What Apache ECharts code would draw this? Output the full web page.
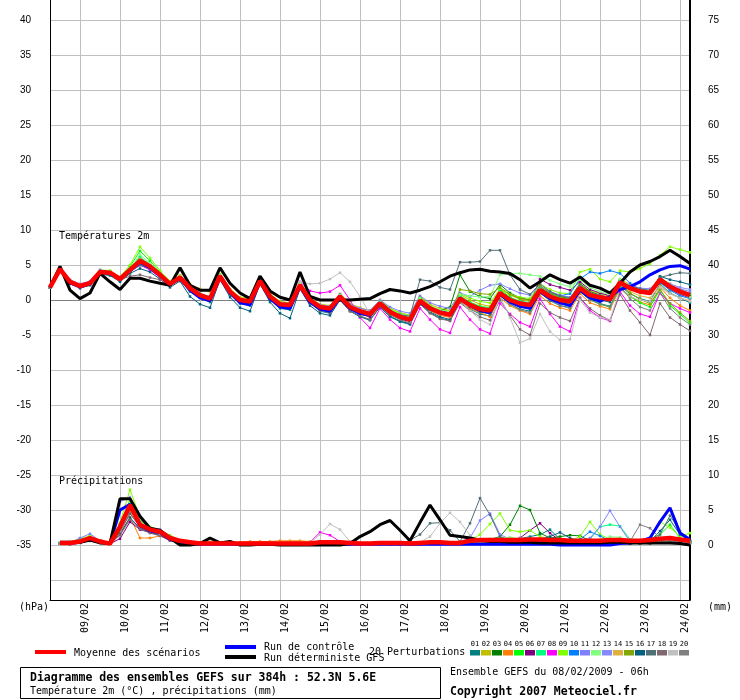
<!DOCTYPE html>
<html><head><meta charset="utf-8">
<script src="https://cdn.jsdelivr.net/npm/echarts@6/dist/echarts.min.js"></script>
<style>html,body{margin:0;padding:0;background:#fff}#c{width:740px;height:700px}</style>
</head><body><div id="c"></div>
<script>
// ---- axis / category definitions ----
const dayLabels = ['09/02','10/02','11/02','12/02','13/02','14/02','15/02','16/02','17/02','18/02','19/02','20/02','21/02','22/02','23/02','24/02'];
const startHour = 6, stepHour = 6, nSteps = 65; // 08/02 06h -> +384h
const leftTickLabels = [-35,-30,-25,-20,-15,-10,-5,0,5,10,15,20,25,30,35,40];
const rightTickLabels = [0,5,10,15,20,25,30,35,40,45,50,55,60,65,70,75];
const pertNames = ['01','02','03','04','05','06','07','08','09','10','11','12','13','14','15','16','17','18','19','20'];
const pertColors = ['#008080','#c0c000','#008000','#ff8000','#00ff00','#800080','#00ff80','#ff00ff','#80ff00','#0080ff','#8080ff','#80ff80','#8888ff','#e0b040','#80a800','#006080','#507078','#806870','#c0c0c0','#808080'];

// ---- temperature 2m (°C) ----
const tMean = [1.8,4.4,2.6,2.0,2.4,4.0,3.9,3.0,4.3,5.6,4.8,3.6,2.3,3.2,1.7,0.7,0.2,3.4,1.2,0.0,-0.2,2.7,0.5,-0.6,-0.7,2.1,0.0,-1.0,-1.2,0.5,-1.0,-1.6,-2.0,-0.5,-1.7,-2.4,-2.8,-0.1,-1.2,-1.8,-2.1,0.2,-0.7,-1.3,-1.5,1.0,0.0,-0.5,-0.7,1.4,0.5,0.0,-0.2,1.7,0.7,0.4,0.1,2.5,1.7,1.2,1.0,2.9,1.9,1.2,0.7];
const tDet = [1.8,4.8,1.4,0.2,1.0,3.8,2.6,1.5,3.1,3.1,2.7,2.4,2.1,4.6,2.1,1.4,1.4,4.6,2.4,1.0,0.2,3.4,1.3,0.4,0.0,4.0,0.5,0.0,0.0,0.0,0.0,0.1,0.2,0.9,1.5,1.3,1.0,1.4,1.9,2.6,3.4,3.9,4.3,4.4,4.1,4.0,3.8,2.9,1.7,2.6,3.6,2.9,2.4,3.3,2.1,1.7,1.0,2.4,4.0,5.0,5.5,6.2,7.1,6.2,5.2];
const tCtrl = [1.8,4.4,2.5,1.9,2.3,4.0,3.8,3.0,4.2,5.4,4.6,3.5,2.2,3.1,1.4,0.3,-0.1,3.2,1.0,-0.4,-0.7,2.6,0.2,-1.0,-1.2,1.9,-0.3,-1.3,-1.6,0.3,-1.2,-1.9,-2.2,-0.4,-1.6,-2.5,-2.9,-0.3,-1.3,-1.7,-2.0,0.3,-0.8,-1.5,-1.8,0.8,-0.3,-0.9,-1.2,1.2,0.2,-0.4,-0.8,1.4,0.3,-0.2,0.5,1.5,1.9,2.6,3.6,4.3,4.8,4.9,4.4];
const t01 = [1.8,4.3,2.4,1.8,2.2,3.8,3.6,2.8,4.0, 5.0,4.4,3.3,2.0,2.9,1.2,0.3,-0.3, 3.1,0.8,-0.5,-0.8,2.4,0.1,-1.2,-1.4, 1.8,-0.4,-1.6,-1.9,0.1,-1.5,-2.3,-2.8, -1.0,-2.4,-3.1,-3.5,-0.6,-1.8,-2.6,-2.9, -0.2,-1.3,-2.0,-2.3,0.6,-0.6,-1.3,-1.6, 1.0,-0.1,-0.8,-1.1,1.2,0.0,-0.5,-0.9, 2.0,0.9,0.2,-0.2,2.3,1.0,0.3,-0.4];
const t02 = [1.8,4.5,2.8,2.2,2.6,4.2,4.1,3.2,4.6, 6.0,5.1,3.9,2.6,3.5,2.2,1.6,1.2, 3.7,1.6,0.4,0.2,3.0,0.9,-0.2,-0.4, 2.4,0.3,-0.6,-0.8,0.9,-0.5,-1.1,-1.5, 0.0,-1.2,-1.8,-2.2,0.5,-0.6,-1.2,-1.5, 0.8,0.0,-0.6,-0.9,1.6,0.7,0.1,-0.2, 2.0,1.1,0.5,0.2,2.2,1.3,0.9,0.5, 3.0,2.2,1.6,1.3,3.2,2.3,1.5,0.9];
const t03 = [1.8,4.4,2.5,1.9,2.3,3.9,3.8,2.9,4.2, 5.5,4.7,3.5,2.2,3.1,1.5,0.5,0.0, 3.3,1.1,-0.1,-0.4,2.6,0.4,-0.8,-1.0, 1.9,-0.3,-1.3,-1.5,0.3,-1.2,-1.8,-2.2, -0.3,-1.5,-2.2,-2.6,0.4,-0.9,-1.5,-1.0, 3.6,1.2,0.5,0.2,2.2,1.0,0.3,0.0, 1.8,0.9,0.4,0.2,2.4,1.2,0.7,0.3, 2.8,1.9,1.3,1.1,3.3,2.0,1.2,0.6];
const t04 = [1.8,4.4,2.6,2.0,2.4,4.0,3.9,3.0,4.4, 5.9,5.0,3.7,2.4,3.3,1.8,0.8,0.4, 3.4,1.3,0.0,-0.2,2.7,0.5,-0.7,-0.8, 1.9,-0.2,-1.2,-1.5,0.2,-1.3,-2.0,-2.4, -0.8,-2.0,-2.7,-3.1,-0.5,-1.5,-2.2,-2.5, -0.2,-1.2,-1.8,-2.4,0.3,-0.8,-1.5,-2.0, 0.6,-0.5,-1.1,-1.5,0.9,-0.4,-0.9,-1.3, 1.6,0.6,-0.3,-0.7,1.8,0.3,-0.8,-1.5];
const t05 = [1.8,4.5,2.7,2.1,2.5,4.1,4.1,3.2,4.8, 7.0,5.6,4.0,2.6,3.4,1.8,0.7,0.2, 3.5,1.2,-0.1,-0.3,2.8,0.6,-0.5,-0.7, 2.2,0.1,-0.9,-1.1,0.7,-0.8,-1.5,-1.9, -0.2,-1.4,-2.0,-2.4,0.2,-1.0,-1.6,-1.9, 0.6,-0.3,-0.9,-1.1,1.5,0.4,-0.2,-0.4, 1.6,0.5,-0.2,-0.5,1.3,0.1,-0.6,-1.0, 1.8,0.5,-0.4,-1.0,1.5,-0.8,-2.0,-3.3];
const t06 = [1.8,4.4,2.5,1.9,2.3,4.0,3.9,3.0,4.3, 5.3,4.6,3.5,2.2,3.1,1.6,0.5,0.1, 3.3,1.0,-0.2,-0.4,2.6,0.3,-0.9,-1.0, 1.9,-0.3,-1.3,-1.6,0.2,-1.3,-2.0,-2.4, -0.6,-1.8,-2.5,-2.9,-0.2,-1.3,-1.9,-2.2, 0.3,-0.6,-1.2,-1.4,1.2,0.2,-0.3,-0.5, 3.0,2.2,1.8,1.4,2.6,1.5,1.0,0.6, 2.7,1.8,1.2,0.9,2.6,1.5,0.8,0.3];
const t07 = [1.8,4.3,2.6,2.0,2.4,4.1,3.9,3.1,4.5, 6.2,5.0,3.8,2.5,3.3,1.9,0.9,0.5, 3.6,1.4,0.2,0.0,2.9,0.7,-0.4,-0.5, 2.3,0.2,-0.8,-1.0,0.7,-0.8,-1.4,-1.8, -0.4,-1.6,-2.2,-2.6,0.1,-1.0,-1.6,-1.9, 0.5,-0.4,-1.0,-1.2,1.3,0.3,-0.2,-0.4, 1.7,0.8,0.3,0.0,2.0,1.0,0.6,0.3, 2.7,1.9,1.4,1.2,3.1,2.1,1.4,0.9];
const t08 = [1.8,4.3,2.3,1.7,2.2,3.8,3.7,2.8,4.0, 5.0,4.3,3.2,2.0,3.0,1.5,0.6,0.2, 3.3,1.2,0.0,-0.2,2.7,0.5,-0.5,-0.6, 2.6,1.3,1.0,1.2,2.1,0.0,-2.5,-4.0, -1.2,-2.8,-4.0,-4.5,-1.2,-2.8,-4.2,-4.7, -1.0,-2.8,-4.2,-4.8,-0.5,-2.0,-3.2,-3.8, 0.2,-2.0,-3.8,-4.5,0.3,-1.5,-2.5,-3.0, 1.2,-0.8,-2.0,-2.4,1.0,-0.5,-1.2,-1.8];
const t09 = [1.8,4.6,2.8,2.2,2.6,4.3,4.2,3.3,5.0, 7.6,6.0,4.2,2.7,3.5,1.9,0.8,0.4, 3.6,1.5,0.3,0.1,3.0,0.8,-0.3,-0.4, 2.3,0.3,-0.7,-0.9,0.6,-0.9,-1.5,-1.8, -0.1,-1.2,-1.9,-2.2,0.3,-0.8,-1.4,-1.6, 0.9,0.3,-0.2,-0.4,1.6,0.8,0.4,0.2, 2.3,1.5,1.0,0.9,4.0,4.4,3.0,2.6, 4.2,4.0,4.5,5.2,6.4,7.6,7.2,6.8];
const t10 = [1.8,4.4,2.7,2.1,2.5,4.0,3.9,3.0,4.3, 5.4,4.7,3.6,2.3,3.2,1.6,0.6,0.1, 3.3,1.1,-0.1,-0.3,2.6,0.4,-0.7,-0.9, 2.0,-0.1,-1.1,-1.3,0.4,-1.1,-1.7,-2.1, -0.6,-1.8,-2.5,-2.9,-0.2,-1.3,-1.9,-2.2, 0.1,-0.8,-1.4,-1.7,0.9,-0.2,-0.8,-1.0, 1.6,1.0,0.6,0.9,3.0,4.0,3.8,4.2, 3.8,2.4,1.5,1.0,2.5,1.4,0.6,0.2];
const t11 = [1.8,4.5,2.9,2.3,2.7,4.3,4.0,3.1,4.4, 5.8,5.0,3.8,2.4,3.2,1.6,0.6,0.2, 3.4,1.2,0.1,-0.1,2.8,0.6,-0.4,-0.5, 2.2,0.2,-0.7,-0.9,0.8,-0.6,-1.2,-1.5, 0.0,-1.0,-1.6,-1.9,0.6,-0.4,-0.9,-1.2, 1.0,0.5,1.4,2.1,2.3,1.6,1.0,0.7, 2.0,1.2,0.7,0.4,1.9,1.0,0.6,0.4, 2.7,2.1,1.7,1.6,3.0,2.2,1.6,1.2];
const t12 = [1.8,4.4,2.6,2.0,2.5,4.1,4.0,3.1,4.5, 6.5,5.2,3.8,2.4,3.3,1.7,0.6,0.2, 3.5,1.3,0.0,-0.2,2.8,0.5,-0.6,-0.7, 2.1,0.0,-1.0,-1.2,0.6,-0.9,-1.5,-1.9, -0.3,-1.4,-2.0,-2.3,0.2,-0.9,-1.4,-1.7, 0.8,0.6,0.4,0.5,3.6,3.8,3.8,3.6, 3.4,2.8,2.3,1.9,2.9,1.8,1.2,0.8, 2.9,2.0,1.4,1.1,3.0,1.8,1.0,0.4];
const t13 = [1.8,4.4,2.7,2.1,2.5,4.1,3.9,3.0,4.3, 5.6,4.8,3.6,2.3,3.2,1.6,0.6,0.2, 3.4,1.2,0.0,-0.2,2.7,0.5,-0.6,-0.7, 2.1,0.0,-1.0,-1.2,0.5,-1.0,-1.6,-2.0, -0.5,-1.7,-2.4,-2.8,-0.1,-1.2,-1.8,-2.1, 0.2,-0.7,-1.3,-1.5,1.0,0.0,-0.5,-0.7, 1.4,0.5,0.0,-0.2,1.7,0.7,0.4,0.1, 2.5,1.7,1.2,1.0,2.9,2.3,1.8,1.5];
const t14 = [1.8,4.4,2.6,2.0,2.4,4.0,3.9,3.1,4.4, 5.8,4.9,3.7,2.5,3.5,2.3,1.5,1.2, 3.5,1.4,0.3,0.1,2.8,0.6,-0.4,-0.5, 2.2,0.1,-0.9,-1.1,0.6,-0.9,-1.5,-1.9, -0.4,-1.6,-2.3,-2.7,-0.1,-1.2,-1.8,-2.1, 0.3,-0.6,-1.2,-1.4,1.1,0.1,-0.4,-0.6, 1.5,0.6,0.1,-0.1,1.8,0.8,0.4,0.1, 2.2,1.2,0.6,0.3,2.0,0.9,0.3,-0.1];
const t15 = [1.8,4.4,2.6,2.0,2.4,4.0,3.9,3.0,4.3, 5.7,4.8,3.6,2.3,3.2,1.7,0.7,0.2, 3.4,1.2,0.0,-0.2,2.7,0.5,-0.6,-0.7, 2.1,0.0,-1.0,-1.2,0.5,-1.0,-1.6,-2.0, -0.5,-1.7,-2.4,-2.8,-0.1,-1.2,-1.8,-2.1, 1.5,1.3,0.9,0.8,1.8,0.8,0.2,0.0, 2.0,1.0,0.4,0.1,2.2,1.1,0.5,0.1, 2.3,1.0,0.1,-0.5,1.5,-0.5,-1.8,-3.0];
const t16 = [1.8,4.3,2.3,1.7,2.1,3.7,3.5,2.6,3.8, 4.5,4.0,3.0,1.8,2.7,0.5,-0.6,-1.1, 2.9,0.4,-1.1,-1.6,2.3,-0.3,-1.9,-2.6, 1.6,-0.8,-1.9,-2.2,0.0,-1.6,-2.4,-2.9, -1.0,-2.3,-3.0,-3.4,-0.5,-1.7,-2.4,-2.8, -0.1,-1.0,-1.7,-2.0,0.8,-0.3,-0.9,-1.2, 1.2,0.2,-0.4,-0.7,1.5,0.4,0.0,-0.3, 2.4,1.6,1.1,0.9,3.4,2.9,2.6,2.2];
const t17 = [1.8,4.4,2.6,2.0,2.4,4.0,3.8,2.9,4.1, 5.0,4.5,3.4,2.1,3.0,1.4,0.4,-0.1, 3.2,1.0,-0.2,-0.4,2.5,0.3,-0.8,-0.9, 1.9,-0.2,-1.2,-1.4,0.3,-1.2,-1.8,-2.2, -0.6,-1.6,-2.1,-2.3,2.9,2.7,1.8,1.5, 5.4,5.4,5.5,7.1,7.1,3.6,1.5,0.8, 2.3,1.2,0.6,0.3,2.0,1.0,0.5,0.2, 2.6,2.0,1.6,1.4,3.2,3.6,3.9,3.8];
const t18 = [1.8,4.3,2.5,1.9,2.3,3.9,3.8,2.9,3.4, 3.6,3.2,2.9,2.1,3.0,1.5,0.5,0.0, 3.2,1.0,-0.3,-0.5,2.5,0.2,-1.0,-1.2, 1.8,-0.4,-1.5,-1.8,0.0,-1.6,-2.3,-2.8, -0.9,-2.1,-2.8,-3.3,-0.6,-1.9,-2.7,-3.0, -0.4,-1.5,-2.4,-2.9,0.0,-2.2,-4.2,-5.0, -0.5,-1.8,-2.5,-3.0,0.3,-1.2,-2.2,-2.9, 0.8,-1.5,-3.2,-5.0,-0.5,-2.5,-3.5,-4.4];
const t19 = [1.8,4.4,2.6,2.0,2.4,4.0,3.9,3.0,4.3, 5.5,4.7,3.5,2.2,3.1,1.6,0.6,0.2, 3.3,1.1,-0.1,-0.3,2.6,0.4,-0.7,-0.8, 2.6,2.3,2.4,3.0,3.9,2.6,0.5,-2.0, -0.5,-1.8,-2.6,-3.0,-0.3,-1.5,-2.0,-2.3, 0.0,-1.5,-2.8,-3.5,0.5,-2.5,-6.1,-5.5, -2.0,-4.5,-5.7,-5.6,0.0,-1.8,-2.5,-2.8, 1.5,0.5,0.0,-0.2,1.8,0.9,0.3,-0.2];
const t20 = [1.8,4.4,2.6,2.0,2.4,4.0,3.9,3.0,4.3, 5.6,4.8,3.6,2.3,3.2,1.7,0.7,0.2, 3.4,1.2,0.0,-0.2,2.7,0.5,-0.6,-0.7, 2.1,0.0,-1.0,-1.2,0.5,-1.0,-1.6,-2.0, -0.5,-1.7,-2.4,-2.8,-0.1,-1.2,-1.8,-2.1, 0.2,-0.9,-1.6,-1.9,0.8,-0.6,-1.4,-1.8, 1.2,0.0,-0.8,-1.2,1.3,0.0,-0.6,-1.0, 2.0,0.2,-1.0,-1.5,1.0,-1.2,-2.5,-3.5];

// ---- precipitation (mm / 6h) ----
const pMean = [null, 0.3,0.3,0.5,1.0,0.5,0.2,2.6,5.7,2.9,2.2,1.9,1.0,0.6,0.4,0.2,0.2, 0.2,0.2,0.2,0.2,0.2,0.2,0.2,0.2,0.2,0.2,0.4,0.4,0.4,0.3, 0.2,0.2,0.3,0.3,0.3,0.2,0.3,0.4,0.4,0.3,0.3,0.6,0.7,0.7, 0.7,0.7,0.7,0.8,0.8,0.7,0.7,0.6,0.6,0.6,0.6,0.7,0.7,0.6,0.6,0.7,0.9,1.0,0.8,0.6];
const pDet = [null, 0.4,0.4,0.4,0.7,0.3,0.2,6.6,6.6,4.1,2.4,2.1,1.0,0.0,0.0,0.2,1.0, 0.3,0.5,0.0,0.0,0.1,0.1,0.0,0.0,0.0,0.0,0.0,0.0,0.0,0.2, 1.2,1.9,2.9,3.5,2.1,0.6,3.2,5.7,3.6,1.4,1.2,1.0,0.7,0.5, 0.5,0.4,0.4,0.4,0.3,0.3,0.3,0.3,0.3,0.3,0.3,0.4,0.4,0.3,0.3,0.3,0.3,0.3,0.2,0.0];
const pCtrl = [null, 0.2,0.2,0.4,0.8,0.4,0.2,5.0,5.8,2.8,2.0,1.8,0.8,0.4,0.2,0.1,0.1, 0.1,0.1,0.1,0.1,0.1,0.1,0.1,0.1,0.1,0.1,0.1,0.1,0.1,0.1, 0.1,0.1,0.1,0.1,0.1,0.1,0.1,0.1,0.1,0.1,0.1,0.1,0.1,0.1, 0.1,0.1,0.1,0.1,0.1,0.1,0.0,0.0,0.0,0.0,0.0,0.0,0.2,0.3,0.5,1.0,3.3,5.3,1.7,0.8];
const p01 = [null, 0.2,0.3,0.6,1.0,0.4,0.2,3.0,5.5,3.0,2.0,1.6,0.8,0.4,0.2,0.1,0.1, 0.1,0.2,0.1,0.1,0.1,0.2,0.1,0.1,0.1,0.1,0.2,0.2,0.1,0.1, 0.1,0.1,0.2,0.2,0.1,0.1,0.3,0.5,0.4,0.3,0.2,0.4,0.5,0.6, 0.6,0.8,0.9,1.2,1.5,2.2,0.8,0.5,0.4,0.3,0.3,0.3,0.4,0.3,0.2,0.2,0.5,0.8,0.6,0.3];
const p02 = [null, 0.3,0.3,0.7,1.1,0.5,0.2,2.5,6.0,3.2,2.3,1.8,1.0,0.5,0.3,0.2,0.1, 0.1,0.1,0.2,0.1,0.1,0.1,0.2,0.1,0.1,0.1,0.1,0.2,0.2,0.1, 0.1,0.1,0.1,0.2,0.2,0.1,0.2,0.3,0.3,0.2,0.2,0.3,0.4,0.4, 0.5,0.5,0.6,0.6,0.7,0.6,0.5,0.5,0.4,0.5,0.6,0.5,0.4,0.4,0.4,0.5,0.6,0.7,0.5,0.4];
const p03 = [null, 0.2,0.3,0.8,1.2,0.6,0.2,2.2,5.2,3.0,2.2,1.7,0.9,0.4,0.2,0.1,0.1, 0.2,0.2,0.1,0.1,0.1,0.1,0.1,0.1,0.1,0.2,0.2,0.2,0.1,0.1, 0.1,0.1,0.1,0.1,0.1,0.1,0.2,0.3,0.3,0.3,0.5,0.6,0.7,0.8, 1.2,2.9,5.6,5.0,1.7,1.0,1.2,1.4,1.3,0.6,0.4,0.3,0.3,0.2,0.2,0.3,0.4,0.6,0.5,0.3];
const p04 = [null, 0.2,0.2,0.5,0.9,0.4,0.2,1.5,4.0,1.0,1.0,1.3,0.8,0.4,0.3,0.3,0.3, 0.3,0.4,0.4,0.5,0.5,0.5,0.6,0.6,0.6,0.5,0.5,0.5,0.4,0.3, 0.2,0.1,0.1,0.1,0.1,0.1,0.2,0.2,0.3,0.3,0.4,0.5,0.5,0.5, 0.5,0.6,0.6,0.5,0.5,0.4,0.4,0.4,0.3,0.3,0.3,0.4,0.4,0.3,0.3,0.4,0.5,0.6,0.5,0.3];
const p05 = [null, 0.3,0.3,0.6,1.2,0.6,0.2,2.8,6.5,3.5,2.5,2.0,1.2,0.6,0.3,0.2,0.1, 0.1,0.1,0.1,0.1,0.2,0.1,0.1,0.1,0.1,0.1,0.2,0.2,0.2,0.1, 0.1,0.1,0.1,0.1,0.2,0.2,0.2,0.2,0.3,0.3,0.3,0.4,0.5,0.6, 0.7,0.6,0.6,0.7,0.6,0.6,0.5,0.5,0.6,0.6,0.5,0.5,0.4,0.5,0.6,0.8,1.5,2.9,1.0,0.5];
const p06 = [null, 0.2,0.1,0.4,0.6,0.3,0.2,0.9,3.3,2.2,1.8,1.4,0.7,0.3,0.2,0.1,0.1, 0.1,0.1,0.1,0.1,0.1,0.2,0.2,0.2,0.1,0.1,0.2,0.5,0.3,0.1, 0.1,0.1,0.1,0.1,0.2,0.3,0.4,0.3,0.3,0.2,0.3,0.4,0.5,0.6, 0.6,0.7,1.0,2.1,3.1,1.7,0.6,0.5,0.4,0.4,0.4,0.4,0.3,0.3,0.3,0.4,0.6,0.6,0.5,0.4];
const p07 = [null, 0.3,0.2,0.6,1.0,0.5,0.2,2.0,4.8,3.3,2.0,1.7,0.9,0.4,0.2,0.1,0.1, 0.1,0.1,0.1,0.1,0.1,0.1,0.1,0.1,0.2,0.2,0.1,0.1,0.1,0.1, 0.1,0.1,0.1,0.2,0.2,0.2,0.3,0.3,0.3,0.4,0.4,0.5,0.5,0.6, 0.6,0.7,0.7,0.8,0.9,0.8,0.6,0.5,0.5,0.8,2.6,2.9,2.7,0.8,0.5,0.5,0.6,0.8,0.7,0.5];
const p08 = [null, 0.2,0.2,0.4,0.8,0.4,0.2,1.8,4.5,2.6,2.1,1.6,0.8,0.4,0.2,0.1,0.1, 0.1,0.1,0.1,0.1,0.1,0.1,0.2,0.2,0.3,0.4,1.8,1.4,0.5,0.2, 0.1,0.1,0.1,0.1,0.1,0.2,0.2,0.3,0.3,0.3,0.3,0.4,0.4,0.4, 0.5,0.5,0.6,0.5,0.5,0.4,0.4,0.3,0.3,0.3,0.3,0.4,0.4,0.3,0.3,0.3,0.4,0.5,0.4,0.3];
const p09 = [null, 0.3,0.4,0.9,1.3,0.6,0.3,3.2,7.9,4.0,2.6,2.1,1.4,0.7,0.3,0.2,0.1, 0.1,0.1,0.1,0.1,0.1,0.2,0.2,0.1,0.1,0.1,0.1,0.2,0.2,0.1, 0.1,0.1,0.1,0.1,0.1,0.1,0.2,0.3,0.3,0.3,0.4,0.6,1.5,3.0, 4.5,2.1,1.9,2.1,1.2,0.8,0.6,0.6,1.2,3.3,1.5,0.8,0.7,0.6,0.6,0.8,3.3,2.5,1.2,1.7];
const p10 = [null, 0.2,0.2,0.5,0.9,0.4,0.2,2.4,5.0,2.9,2.1,1.7,0.8,0.4,0.2,0.1,0.1, 0.1,0.1,0.1,0.1,0.1,0.1,0.1,0.1,0.1,0.1,0.1,0.1,0.1,0.1, 0.1,0.1,0.1,0.1,0.1,0.2,0.2,0.2,0.2,0.3,0.3,0.3,0.4,0.4, 0.5,0.5,0.5,0.5,0.6,0.6,0.5,0.5,0.8,1.9,1.3,0.6,0.4,0.3,0.3,0.4,0.5,0.7,0.6,0.4];
const p11 = [null, 0.3,0.3,1.0,1.6,0.6,0.2,6.2,6.8,3.8,2.4,2.2,1.2,0.5,0.2,0.1,0.1, 0.1,0.1,0.1,0.1,0.1,0.1,0.1,0.1,0.1,0.1,0.2,0.2,0.1,0.1, 0.1,0.1,0.1,0.1,0.2,0.2,0.2,0.3,0.3,0.3,0.4,1.0,3.5,4.5, 1.5,0.8,0.6,0.6,0.6,0.5,0.5,0.5,0.6,1.0,2.6,4.9,2.6,0.5,0.4,0.4,0.5,0.7,0.6,0.4];
const p12 = [null, 0.3,0.3,0.6,1.1,0.5,0.2,2.6,6.2,3.6,2.5,2.0,1.2,0.6,0.3,0.2,0.1, 0.1,0.1,0.1,0.1,0.1,0.1,0.1,0.1,0.1,0.1,0.1,0.1,0.2,0.1, 0.1,0.1,0.1,0.1,0.1,0.2,0.2,0.2,0.3,0.3,0.4,0.5,0.7,0.9, 1.0,1.1,0.9,0.8,0.7,0.6,0.6,0.6,0.5,0.6,0.8,1.2,1.1,0.6,0.5,0.5,0.6,0.8,0.7,0.5];
const p13 = [null, 0.2,0.3,0.5,0.9,0.5,0.2,2.3,5.4,3.1,2.2,1.8,0.9,0.4,0.2,0.1,0.1, 0.1,0.1,0.1,0.1,0.1,0.1,0.1,0.1,0.1,0.1,0.1,0.1,0.1,0.1, 0.1,0.1,0.1,0.1,0.1,0.1,0.2,0.2,0.2,0.3,0.3,0.4,0.4,0.5, 0.5,0.5,0.6,0.6,0.6,0.5,0.5,0.5,0.4,0.4,0.4,0.5,0.5,0.4,0.4,0.5,0.8,1.0,0.8,0.5];
const p14 = [null, 0.2,0.2,0.5,0.8,0.4,0.2,1.8,4.6,2.7,2.0,1.6,0.8,0.4,0.3,0.4,0.5, 0.4,0.4,0.3,0.3,0.3,0.3,0.4,0.5,0.5,0.5,0.4,0.4,0.3,0.2, 0.1,0.1,0.1,0.1,0.1,0.1,0.2,0.2,0.2,0.3,0.3,0.3,0.4,0.4, 0.4,0.5,0.5,0.5,0.5,0.4,0.4,0.4,0.4,0.4,0.4,0.4,0.4,0.3,0.3,0.3,0.4,0.5,0.5,0.3];
const p15 = [null, 0.2,0.2,0.4,0.8,0.4,0.2,2.0,4.9,2.8,2.0,1.7,0.9,0.4,0.2,0.1,0.1, 0.1,0.1,0.1,0.1,0.1,0.1,0.1,0.1,0.1,0.1,0.1,0.1,0.1,0.1, 0.1,0.1,0.1,0.1,0.1,0.1,0.2,0.2,0.2,0.3,0.3,0.4,0.4,0.4, 0.5,0.5,0.5,0.5,0.5,0.4,0.4,0.4,0.4,0.3,0.3,0.3,0.4,0.3,0.3,0.4,0.6,0.8,0.7,0.4];
const p16 = [null, 0.2,0.2,0.3,0.6,0.4,0.2,1.6,3.9,2.4,1.8,1.5,0.7,0.3,0.2,0.1,0.1, 0.1,0.1,0.1,0.1,0.1,0.1,0.1,0.1,0.1,0.1,0.1,0.1,0.1,0.1, 0.1,0.1,0.1,0.1,0.1,0.1,0.2,0.2,0.2,0.2,0.3,0.3,0.3,0.4, 0.4,0.5,0.5,0.6,0.8,1.2,1.8,1.0,0.5,0.4,0.4,0.4,0.4,0.3,0.3,0.5,2.0,3.6,1.5,0.6];
const p17 = [null, 0.2,0.2,0.5,0.8,0.4,0.2,2.0,4.5,2.6,1.9,1.5,0.8,0.4,0.2,0.1,0.1, 0.1,0.1,0.1,0.1,0.1,0.1,0.1,0.1,0.1,0.1,0.1,0.1,0.1,0.1, 0.1,0.1,0.1,0.1,0.1,0.7,1.5,3.1,3.2,2.1,0.5,3.1,6.7,4.3, 1.2,0.6,0.5,0.5,0.5,0.4,0.4,0.4,0.4,0.4,0.4,0.4,0.4,0.4,0.5,0.8,1.5,4.2,2.0,0.6];
const p18 = [null, 0.2,0.2,0.4,0.7,0.4,0.2,1.4,3.6,2.3,1.7,1.3,0.6,0.3,0.1,0.1,0.1, 0.1,0.1,0.1,0.1,0.1,0.1,0.1,0.1,0.1,0.1,0.1,0.1,0.1,0.1, 0.1,0.1,0.1,0.1,0.1,0.1,0.1,0.2,0.2,0.2,0.3,0.3,0.3,0.3, 0.4,0.4,0.4,0.4,0.4,0.3,0.3,0.3,0.3,0.3,0.3,0.3,0.3,0.3,0.3,0.3,0.4,0.5,0.4,0.3];
const p19 = [null, 0.2,0.2,0.4,0.8,0.4,0.2,2.1,5.0,2.8,2.0,1.6,0.8,0.4,0.2,0.1,0.1, 0.1,0.1,0.1,0.1,0.1,0.1,0.1,0.1,0.2,0.3,1.5,3.0,2.2,0.5, 0.1,0.1,0.1,0.1,0.1,0.2,0.4,1.2,3.1,4.6,3.3,1.4,0.3,0.2, 0.2,0.2,0.2,0.2,0.2,0.2,0.2,0.2,0.2,0.2,0.2,0.2,0.3,0.3,0.3,0.3,0.4,0.5,0.4,0.3];
const p20 = [null, 0.2,0.2,0.5,0.9,0.4,0.2,2.2,5.2,3.0,2.1,1.7,0.9,0.4,0.2,0.1,0.1, 0.1,0.1,0.1,0.1,0.1,0.1,0.1,0.1,0.1,0.1,0.1,0.1,0.1,0.1, 0.1,0.1,0.1,0.1,0.1,0.1,0.2,0.2,0.2,0.3,0.3,0.3,0.4,0.4, 0.4,0.4,0.5,0.5,0.5,0.4,0.4,0.4,0.4,0.4,0.4,0.4,0.4,0.5,2.9,2.4,1.0,0.6,0.5,0.4];

const pertT = [t01,t02,t03,t04,t05,t06,t07,t08,t09,t10,t11,t12,t13,t14,t15,t16,t17,t18,t19,t20];
const pertP = [p01,p02,p03,p04,p05,p06,p07,p08,p09,p10,p11,p12,p13,p14,p15,p16,p17,p18,p19,p20];

// categories: one per 6h step, day label at 00h
const categories = [];
for (let i = 0; i < nSteps; i++) {
  const h = startHour + stepHour * i;
  categories.push(h % 24 === 0 ? dayLabels[h / 24 - 1] : '');
}

const MONO = '"DejaVu Sans Mono", monospace';
const chart = echarts.init(document.getElementById('c'), null, {renderer: 'canvas'});

const series = [];
function pertSeries(data, k, yIdx) {
  return {type: 'line', data: data, xAxisIndex: 0, yAxisIndex: yIdx, symbol: 'rect', symbolSize: 2.5,
    showAllSymbol: true, lineStyle: {width: 1, color: pertColors[k]}, itemStyle: {color: pertColors[k]},
    z: 2, silent: true, animation: false};
}
pertT.forEach((d, k) => series.push(pertSeries(d, k, 0)));
pertP.forEach((d, k) => series.push(pertSeries(d, k, 1)));
function mainSeries(data, yIdx, color, w, z) {
  return {type: 'line', data: data, xAxisIndex: 0, yAxisIndex: yIdx, symbol: 'none',
    lineStyle: {width: w, color: color}, z: z, silent: true, animation: false};
}
series.push(mainSeries(tCtrl, 0, '#0000ff', 3, 3));
series.push(mainSeries(pCtrl, 1, '#0000ff', 3, 3));
series.push(mainSeries(tDet, 0, '#000000', 3, 4));
series.push(mainSeries(pDet, 1, '#000000', 3, 4));
series.push(mainSeries(tMean, 0, '#ff0000', 4.5, 5));
series.push(mainSeries(pMean, 1, '#ff0000', 4.5, 5));

const splitColors = [];
for (let v = -45; v <= 45; v += 5) splitColors.push(v === 0 ? '#808080' : '#c0c0c0');

function T(x, y, text, font, extra) {
  return Object.assign({type: 'text', x: x, y: y, z: 20,
    style: {text: text, font: font, fill: '#000', textAlign: 'left', textVerticalAlign: 'middle', align: 'left', verticalAlign: 'middle'}}, extra || {});
}
const graphics = [
  {type: 'rect', z: 5, shape: {x: 40, y: 600.5, width: 670, height: 20}, style: {fill: '#fff'}},
  T(59, 236, 'Températures 2m', '10px ' + MONO),
  T(59, 481, 'Précipitations', '10px ' + MONO),
  T(19, 607, '(hPa)', '10px ' + MONO),
  T(708, 607, '(mm)', '10px ' + MONO),
  {type: 'line', z: 20, shape: {x1: 35, y1: 652, x2: 66, y2: 652}, style: {stroke: '#ff0000', lineWidth: 4}},
  T(74, 653, 'Moyenne des scénarios', '10px ' + MONO),
  {type: 'line', z: 20, shape: {x1: 225, y1: 647, x2: 256, y2: 647}, style: {stroke: '#0000ff', lineWidth: 4}},
  {type: 'line', z: 20, shape: {x1: 225, y1: 657, x2: 256, y2: 657}, style: {stroke: '#000000', lineWidth: 4}},
  T(264, 647.5, 'Run de contrôle', '10px ' + MONO),
  T(264, 658, 'Run déterministe GFS', '10px ' + MONO),
  T(369, 652.5, '20 Perturbations', '10px ' + MONO),
  {type: 'rect', z: 20, shape: {x: 20.5, y: 667.5, width: 420, height: 31}, style: {fill: 'none', stroke: '#000', lineWidth: 1}},
  T(30, 678, 'Diagramme des ensembles GEFS sur 384h : 52.3N 5.6E', 'bold 11.5px ' + MONO),
  T(30, 691, 'Température 2m (°C) , précipitations (mm)', '10px ' + MONO),
  T(450, 672.5, 'Ensemble GEFS du 08/02/2009 - 06h', '10px ' + MONO),
  T(450, 692, 'Copyright 2007 Meteociel.fr', 'bold 11.5px ' + MONO)
];
pertNames.forEach((n, k) => {
  graphics.push({type: 'rect', z: 20, shape: {x: 470 + 11 * k, y: 650, width: 10, height: 5.5}, style: {fill: pertColors[k]}});
  graphics.push(T(470 + 11 * k + 5, 644, n, '7px ' + MONO, {style: {text: n, font: '7px ' + MONO, fill: '#000', textAlign: 'center', align: 'center', textVerticalAlign: 'middle', verticalAlign: 'middle'}}));
});

const option = {
  animation: false,
  backgroundColor: '#ffffff',
  grid: [
    {left: 50, right: 50, top: -15, height: 630, containLabel: false, outerBoundsMode: 'none'},
    {left: 50, right: 50, top: 0, height: 600, containLabel: false, outerBoundsMode: 'none'}
  ],
  xAxis: [
    {type: 'category', gridIndex: 0, data: categories, boundaryGap: false,
     axisLine: {show: false}, axisTick: {show: false}, axisLabel: {show: false},
     splitLine: {show: true, interval: (i) => i % 4 === 3, lineStyle: {color: '#c0c0c0', width: 1}}},
    {type: 'category', gridIndex: 1, data: categories, boundaryGap: false, z: 10,
     axisLine: {show: true, onZero: false, lineStyle: {color: '#000', width: 1}}, axisTick: {show: false},
     splitLine: {show: false},
     axisLabel: {show: true, interval: 0, rotate: 90, margin: 3, color: '#000', fontFamily: 'DejaVu Sans Mono', fontSize: 10, verticalAlign: 'top'}}
  ],
  yAxis: [
    {type: 'value', gridIndex: 0, position: 'left', min: -45, max: 45, interval: 5,
     axisLine: {show: true, lineStyle: {color: '#000', width: 1}}, axisTick: {show: false},
     axisLabel: {margin: 19, color: '#000', fontFamily: 'Liberation Sans', fontSize: 10,
       formatter: (v) => leftTickLabels.indexOf(v) >= 0 ? String(v) : ''},
     splitLine: {show: true, showMinLine: true, showMaxLine: true, lineStyle: {color: splitColors, width: 1}}},
    {type: 'value', gridIndex: 0, position: 'right', min: -10, max: 80, interval: 5,
     axisLine: {show: true, lineStyle: {color: '#000', width: 2}}, axisTick: {show: false},
     axisLabel: {margin: 18, color: '#000', fontFamily: 'Liberation Sans', fontSize: 10,
       formatter: (v) => rightTickLabels.indexOf(v) >= 0 ? String(v) : ''},
     splitLine: {show: false}},
    {type: 'value', gridIndex: 1, show: false, min: 0, max: 1}
  ],
  series: series,
  graphic: graphics
};
chart.setOption(option);
</script></body></html>
